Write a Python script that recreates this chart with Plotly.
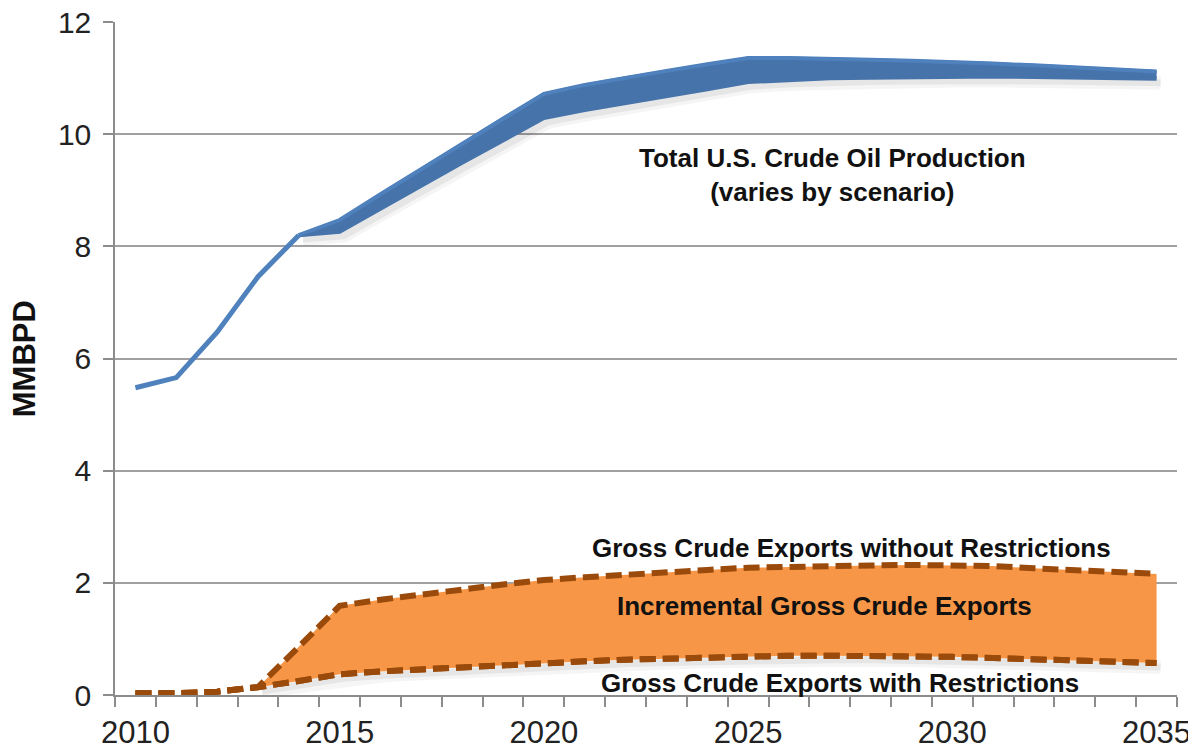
import plotly.graph_objects as go

years = list(range(2010, 2036))

# Total U.S. crude oil production, single history line (2010-2014)
hist_years = [2010, 2011, 2012, 2013, 2014]
hist_prod = [5.48, 5.66, 6.47, 7.46, 8.20]

# Scenario band (2014-2035)
band_years = list(range(2014, 2036))
prod_high = [8.20, 8.47, 8.93, 9.38, 9.84, 10.29, 10.72, 10.88, 11.01, 11.13, 11.25, 11.36,
             11.36, 11.35, 11.33, 11.31, 11.29, 11.26, 11.23, 11.19, 11.16, 11.12]
prod_low = [8.20, 8.26, 8.67, 9.09, 9.49, 9.89, 10.29, 10.43, 10.55, 10.67, 10.80, 10.93,
            10.97, 11.00, 11.01, 11.02, 11.03, 11.03, 11.02, 11.01, 11.00, 10.99]

# Gross crude exports
exp_without = [0.03, 0.03, 0.06, 0.14, 0.86, 1.59, 1.70, 1.80, 1.88, 1.97, 2.05, 2.10, 2.15,
               2.19, 2.23, 2.27, 2.29, 2.30, 2.31, 2.32, 2.32, 2.30, 2.26, 2.22, 2.19, 2.16]
exp_with = [0.03, 0.03, 0.06, 0.14, 0.25, 0.37, 0.42, 0.46, 0.50, 0.54, 0.57, 0.60, 0.63,
            0.65, 0.67, 0.69, 0.70, 0.70, 0.70, 0.69, 0.68, 0.66, 0.64, 0.61, 0.59, 0.57]

xtick_vals = [2010, 2015, 2020, 2025, 2030, 2035]
ytick_vals = [0, 2, 4, 6, 8, 10, 12]

FONT = "Liberation Sans, Arial, sans-serif"
BROWN = "#9A4A0A"
ORANGE = "#F79646"
DASH = "16px,7px"

# soft drop-shadow offsets (in data units)
SHX, SHY = 0.10, 0.07

fig = go.Figure()

# shadows (two soft layers)
for w, a in [(14, 0.04), (7, 0.06)]:
    fig.add_trace(go.Scatter(x=[v + SHX for v in band_years], y=[v - SHY for v in prod_low],
                             mode="lines", line=dict(color=f"rgba(0,0,0,{a})", width=w),
                             hoverinfo="skip", showlegend=False))
    fig.add_trace(go.Scatter(x=[v + SHX for v in years[3:]], y=[v - SHY for v in exp_with[3:]],
                             mode="lines", line=dict(color=f"rgba(0,0,0,{a})", width=w),
                             hoverinfo="skip", showlegend=False))

# Exports: lower (with restrictions) then upper filled to it
fig.add_trace(go.Scatter(x=years, y=exp_with, mode="lines",
                         line=dict(color=BROWN, width=6, dash=DASH),
                         hoverinfo="skip", showlegend=False))
fig.add_trace(go.Scatter(x=years, y=exp_without, mode="lines", fill="tonexty",
                         fillcolor=ORANGE,
                         line=dict(color=BROWN, width=6, dash=DASH),
                         hoverinfo="skip", showlegend=False))
fig.add_trace(go.Scatter(x=years, y=exp_with, mode="lines",
                         line=dict(color=BROWN, width=6, dash=DASH),
                         hoverinfo="skip", showlegend=False))

# Production band
fig.add_trace(go.Scatter(x=band_years, y=prod_high, mode="lines",
                         line=dict(color="#4F81BD", width=4),
                         hoverinfo="skip", showlegend=False))
fig.add_trace(go.Scatter(x=band_years, y=prod_low, mode="lines", fill="tonexty",
                         fillcolor="#4673A9",
                         line=dict(color="#4673A9", width=4),
                         hoverinfo="skip", showlegend=False))
fig.add_trace(go.Scatter(x=band_years, y=prod_high, mode="lines",
                         line=dict(color="#4F81BD", width=3),
                         hoverinfo="skip", showlegend=False))
# History line
fig.add_trace(go.Scatter(x=hist_years, y=hist_prod, mode="lines",
                         line=dict(color="#4F81BD", width=5),
                         hoverinfo="skip", showlegend=False))

ann_font = dict(family=FONT, size=26, color="#111111")
fig.add_annotation(x=2027.07, y=9.28, xref="x", yref="y", showarrow=False,
                   text="<b>Total U.S. Crude Oil Production<br>(varies by scenario)</b>",
                   font=ann_font, align="center")
fig.add_annotation(x=2027.53, y=2.62, xref="x", yref="y", showarrow=False,
                   text="<b>Gross Crude Exports without Restrictions</b>", font=ann_font)
fig.add_annotation(x=2026.87, y=1.59, xref="x", yref="y", showarrow=False,
                   text="<b>Incremental Gross Crude Exports</b>", font=ann_font)
fig.add_annotation(x=2027.24, y=0.21, xref="x", yref="y", showarrow=False,
                   text="<b>Gross Crude Exports with Restrictions</b>", font=ann_font)

# y-axis title (placed left of the plot area, in paper fraction)
fig.add_annotation(x=-0.0850, y=0.5, xref="paper", yref="paper", xanchor="center",
                   yanchor="middle", showarrow=False, textangle=-90,
                   text="<b>MMBPD</b>", font=dict(family=FONT, size=31, color="#111111"))

fig.update_layout(
    width=1188, height=742,
    margin=dict(l=107, r=19, t=14, b=55, autoexpand=False),
    paper_bgcolor="white", plot_bgcolor="white",
    font=dict(family=FONT, color="#222222"),
    showlegend=False,
)
fig.update_xaxes(
    range=[2009.5, 2035.5], tickmode="array", tickvals=xtick_vals,
    ticks="", showgrid=False, zeroline=False, automargin=False,
    showline=True, linecolor="#8C8C8C", linewidth=1.5,
    tickfont=dict(family=FONT, size=31, color="#222222"),
    ticklabelstandoff=9,
    minor=dict(ticks="outside", tick0=2009.5, dtick=1, ticklen=10,
               tickcolor="#8C8C8C", tickwidth=1.5, showgrid=False),
)
fig.update_yaxes(
    range=[0, 12.002], tickmode="array", tickvals=ytick_vals,
    ticks="outside", ticklen=10, tickcolor="#8C8C8C", tickwidth=1.5,
    showgrid=True, gridcolor="#A0A0A0", gridwidth=1.5, zeroline=False,
    showline=True, linecolor="#8C8C8C", linewidth=1.5, automargin=False,
    tickfont=dict(family=FONT, size=30, color="#222222"),
    ticklabelstandoff=6, ticklabeloverflow="allow",
)

fig.write_html("out.html")
